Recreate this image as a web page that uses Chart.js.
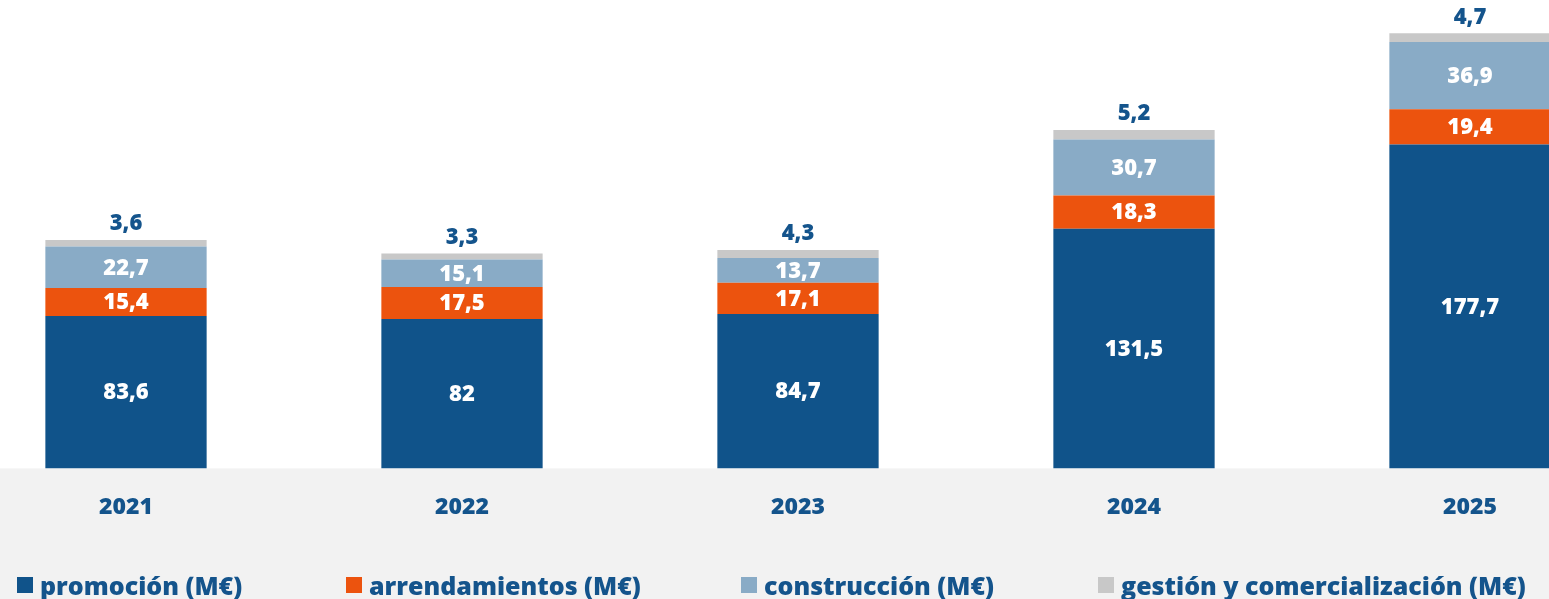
<!DOCTYPE html>
<html>
<head>
<meta charset="utf-8">
<script src="https://cdn.jsdelivr.net/npm/chart.js@4.4.1/dist/chart.umd.min.js"></script>
<style>
  html, body { margin:0; padding:0; width:1549px; height:599px; overflow:hidden; background:#ffffff; }
  #wrap { position:absolute; left:-42px; top:0; width:1680px; height:599px; }
  #legend { position:absolute; left:0; top:0; width:1549px; height:599px; pointer-events:none; }
  .item { position:absolute; top:570px; display:flex; align-items:center; font-family:"Open Sans", sans-serif; font-weight:800; font-size:25px; color:#14548C; white-space:nowrap; line-height:30px; }
  .sw { width:16px; height:16px; margin-right:7px; flex:none; }
</style>
</head>
<body>
<div id="wrap"><canvas id="c"></canvas></div>
<div id="legend"></div>
<script>
const years = ['2021', '2022', '2023', '2024', '2025'];
const promocion = [83.6, 82, 84.7, 131.5, 177.7];
const arrendamientos = [15.4, 17.5, 17.1, 18.3, 19.4];
const construccion = [22.7, 15.1, 13.7, 30.7, 36.9];
const gestion = [3.6, 3.3, 4.3, 5.2, 4.7];
const seriesNames = ['promoción (M€)', 'arrendamientos (M€)', 'construcción (M€)', 'gestión y comercialización (M€)'];
const seriesColors = ['#10538A', '#EC530E', '#89ABC6', '#C8C8C8'];
const yMax = 257;

const fmt = v => String(v).replace('.', ',');

const bandPlugin = {
  id: 'band',
  beforeDraw(chart) {
    const { ctx, chartArea } = chart;
    ctx.save();
    ctx.fillStyle = '#F2F2F2';
    ctx.fillRect(0, chartArea.bottom, chart.width, chart.height - chartArea.bottom);
    ctx.restore();
  }
};

const labelPlugin = {
  id: 'vlabels',
  afterDatasetsDraw(chart) {
    const { ctx } = chart;
    ctx.save();
    ctx.font = '800 22px "Open Sans", sans-serif';
    ctx.textAlign = 'center';
    ctx.textBaseline = 'middle';
    const last = chart.data.datasets.length - 1;
    chart.data.datasets.forEach((ds, di) => {
      const meta = chart.getDatasetMeta(di);
      meta.data.forEach((el, i) => {
        const v = ds.data[i];
        if (di === last) {
          ctx.fillStyle = '#14548C';
          ctx.fillText(fmt(v), el.x, el.y - 16);
        } else {
          ctx.fillStyle = '#FFFFFF';
          ctx.fillText(fmt(v), el.x, (el.y + el.base) / 2 + 1);
        }
      });
    });
    ctx.restore();
  }
};

const datasets = [promocion, arrendamientos, construccion, gestion].map((d, i) => ({
  label: seriesNames[i],
  data: d,
  backgroundColor: seriesColors[i],
  borderWidth: 0,
  barPercentage: 0.8,
  categoryPercentage: 0.6
}));

new Chart(document.getElementById('c'), {
  type: 'bar',
  data: { labels: years, datasets },
  plugins: [bandPlugin, labelPlugin],
  options: {
    responsive: true,
    maintainAspectRatio: false,
    animation: false,
    layout: { padding: { top: 0, bottom: 53, left: 0, right: 0 } },
    plugins: { legend: { display: false }, tooltip: { enabled: false } },
    scales: {
      x: {
        stacked: true,
        grid: { display: false, drawTicks: false },
        border: { display: false },
        ticks: { padding: 25, color: '#14548C', font: { family: '"Open Sans", sans-serif', weight: '800', size: 23 } }
      },
      y: {
        stacked: true,
        display: false,
        min: 0,
        max: yMax
      }
    }
  }
});

const legendLeft = [17, 346, 741, 1098];
const lg = document.getElementById('legend');
seriesNames.forEach((n, i) => {
  const it = document.createElement('div');
  it.className = 'item';
  it.style.left = legendLeft[i] + 'px';
  const sw = document.createElement('span');
  sw.className = 'sw';
  sw.style.background = seriesColors[i];
  const tx = document.createElement('span');
  tx.textContent = n;
  it.appendChild(sw);
  it.appendChild(tx);
  lg.appendChild(it);
});
</script>
</body>
</html>
